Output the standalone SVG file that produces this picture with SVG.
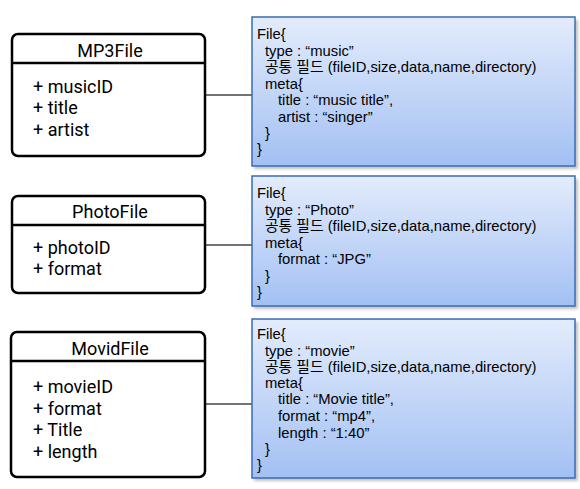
<svg xmlns="http://www.w3.org/2000/svg" width="580" height="489" viewBox="0 0 580 489">
<defs>
<linearGradient id="bg" x1="0" y1="0" x2="0" y2="1">
<stop offset="0" stop-color="#e3ecfc"/>
<stop offset="1" stop-color="#a3c0f3"/>
</linearGradient>
<filter id="sh" x="-10%" y="-10%" width="120%" height="130%">
<feGaussianBlur stdDeviation="1.5"/>
</filter>
</defs>
<style>
.cls{fill:#fff;stroke:#000;stroke-width:2.5}
.div{stroke:#000;stroke-width:2.5}
.t{font-family:Roboto,"Open Sans",sans-serif;font-size:18px;fill:#000}
.n{fill:url(#bg);stroke:#3a6cb4;stroke-width:1.5}
.s{fill:#999;opacity:0.6;filter:url(#sh)}
.c{font-family:"Liberation Sans","Noto Sans CJK KR",sans-serif;font-size:14.8px;fill:#000}
.ln{stroke:#444;stroke-width:1.3;fill:none}
</style>
<rect width="580" height="489" fill="#fff"/>
<g id="connectors">
<line class="ln" x1="205" y1="95" x2="252" y2="95"/>
<line class="ln" x1="205" y1="245" x2="252" y2="245"/>
<line class="ln" x1="205" y1="404" x2="252" y2="404"/>
</g>
<g id="mp3file">
<rect class="cls" x="12" y="34" width="193" height="122" rx="6"/>
<line class="div" x1="12" y1="63" x2="205" y2="63"/>
<text class="t" x="110" y="57" text-anchor="middle">MP3File</text>
<text class="t" x="33" y="92.5">+ musicID</text>
<text class="t" x="33" y="114">+ title</text>
<text class="t" x="33" y="135.5">+ artist</text>
</g>
<g id="photofile">
<rect class="cls" x="12" y="196" width="193" height="97" rx="6"/>
<line class="div" x1="12" y1="225" x2="205" y2="225"/>
<text class="t" x="110" y="218" text-anchor="middle">PhotoFile</text>
<text class="t" x="33" y="253.5">+ photoID</text>
<text class="t" x="33" y="275">+ format</text>
</g>
<g id="movidfile">
<rect class="cls" x="11" y="332" width="194" height="145" rx="6"/>
<line class="div" x1="11" y1="361" x2="205" y2="361"/>
<text class="t" x="110" y="355" text-anchor="middle">MovidFile</text>
<text class="t" x="33" y="393">+ movieID</text>
<text class="t" x="33" y="414.5">+ format</text>
<text class="t" x="33" y="436">+ Title</text>
<text class="t" x="33" y="457.5">+ length</text>
</g>
<g id="music-json">
<rect class="s" x="254" y="20" width="324" height="149"/>
<rect class="n" x="252" y="17" width="323" height="149"/>
<text class="c" x="257" y="39">File{</text>
<text class="c" x="265" y="56">type : “music”</text>
<text class="c" x="265" y="72">공통 필드 (fileID,size,data,name,directory)</text>
<text class="c" x="265" y="89">meta{</text>
<text class="c" x="278" y="105">title : “music title”,</text>
<text class="c" x="278" y="122">artist : “singer”</text>
<text class="c" x="265" y="138">}</text>
<text class="c" x="257" y="154">}</text>
</g>
<g id="photo-json">
<rect class="s" x="254" y="179" width="324" height="130"/>
<rect class="n" x="252" y="176" width="323" height="130"/>
<text class="c" x="257" y="198">File{</text>
<text class="c" x="265" y="215">type : “Photo”</text>
<text class="c" x="265" y="231">공통 필드 (fileID,size,data,name,directory)</text>
<text class="c" x="265" y="248">meta{</text>
<text class="c" x="278" y="264">format : “JPG”</text>
<text class="c" x="265" y="281">}</text>
<text class="c" x="257" y="297">}</text>
</g>
<g id="movie-json">
<rect class="s" x="254" y="322" width="324" height="159"/>
<rect class="n" x="252" y="319" width="323" height="159"/>
<text class="c" x="257" y="339">File{</text>
<text class="c" x="265" y="356">type : “movie”</text>
<text class="c" x="265" y="372">공통 필드 (fileID,size,data,name,directory)</text>
<text class="c" x="265" y="388">meta{</text>
<text class="c" x="278" y="404">title : “Movie title”,</text>
<text class="c" x="278" y="421">format : “mp4”,</text>
<text class="c" x="278" y="438">length : “1:40”</text>
<text class="c" x="265" y="454">}</text>
<text class="c" x="257" y="470">}</text>
</g>
</svg>
